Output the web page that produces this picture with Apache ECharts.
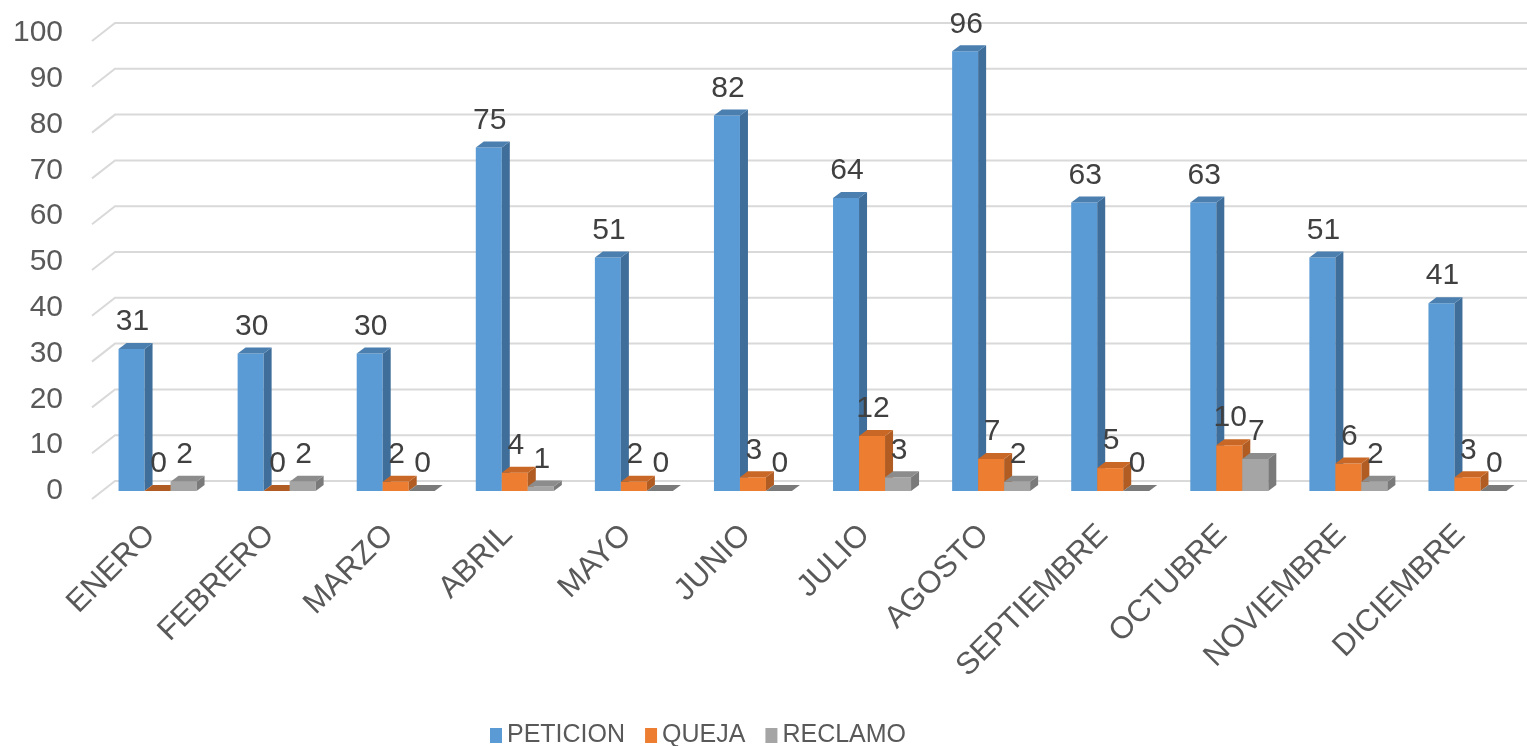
<!DOCTYPE html>
<html>
<head>
<meta charset="utf-8">
<script src="https://cdn.jsdelivr.net/npm/echarts@6/dist/echarts.min.js"></script>
<style>html,body{margin:0;padding:0;background:#fff}#c{width:1527px;height:746px}</style>
</head>
<body>
<div id="c"></div>
<script>
const categories = ['ENERO','FEBRERO','MARZO','ABRIL','MAYO','JUNIO','JULIO','AGOSTO','SEPTIEMBRE','OCTUBRE','NOVIEMBRE','DICIEMBRE'];
const seriesNames = ['PETICION','QUEJA','RECLAMO'];
const peticion = [31,30,30,75,51,82,64,96,63,63,51,41];
const queja    = [0,0,2,4,2,3,12,7,5,10,6,3];
const reclamo  = [2,2,0,1,0,0,3,2,0,7,2,0];
const yTicks = [0,10,20,30,40,50,60,70,80,90,100];

const front = ['#5B9BD5','#ED7D31','#A5A5A5'];
const side  = ['#3F6E9A','#B05C22','#7A7A7A'];
const topc  = ['#4A7FB0','#C96826','#8C8C8C'];
const values = [peticion, queja, reclamo];

const chart = echarts.init(document.getElementById('c'));

function barRenderer(s){
  return function(params, api){
    const i = api.value(0), v = api.value(1);
    const c = api.coord([i, v]);
    const b = api.coord([i, 0]);
    const bw = 26, dx = 8, dy = 6;
    const x0 = c[0] - 39 + bw*s;
    const top = c[1], bot = b[1];
    const children = [];
    if (bot - top > 0.5) {
      children.push({type:'rect', shape:{x:x0, y:top, width:bw, height:bot-top}, style:{fill:front[s]}});
      children.push({type:'polygon', shape:{points:[[x0+bw,top],[x0+bw+dx,top-dy],[x0+bw+dx,bot-dy],[x0+bw,bot]]}, style:{fill:side[s]}});
    }
    children.push({type:'polygon', shape:{points:[[x0,top],[x0+dx,top-dy],[x0+bw+dx,top-dy],[x0+bw,top]]}, style:{fill: v===0 ? side[s] : topc[s]}});
    children.push({type:'text', z2:100, style:{x:x0+bw/2+1, y:top-27, text:String(v), align:'center', verticalAlign:'middle', fill:'#404040', fontSize:30, fontFamily:'Liberation Sans, Arial, sans-serif'}});
    return {type:'group', children};
  };
}

const series = [{
  type:'custom', name:'grid', silent:true, z:0,
  data: yTicks.map(v => [0, v]),
  renderItem: function(params, api){
    const y = api.coord([0, api.value(1)])[1];
    const cs = params.coordSys;
    return {type:'polyline', shape:{points:[[cs.x-6, y+8],[cs.x+17, y-10],[cs.x+cs.width, y-10]]}, style:{stroke:'#D9D9D9', lineWidth:2, fill:null}};
  }
}];
for (let s = 0; s < 3; s++) {
  series.push({
    type:'custom', name:seriesNames[s],
    itemStyle:{color:front[s]},
    data: values[s].map((v, i) => [i, v]),
    renderItem: barRenderer(s)
  });
}

chart.setOption({
  animation:false,
  grid:{left:98, right:0, top:33, bottom:255, containLabel:false},
  legend:{
    data:seriesNames, left:485, top:718, icon:'rect', itemWidth:12, itemHeight:15, itemGap:20,
    textStyle:{fontSize:25, color:'#595959', fontFamily:'Liberation Sans, Arial, sans-serif'}
  },
  xAxis:{
    type:'category', data:categories,
    axisLine:{show:false}, axisTick:{show:false},
    axisLabel:{rotate:45, interval:0, margin:32, fontSize:31, color:'#595959', padding:[0,10,0,0], fontFamily:'Liberation Sans, Arial, sans-serif'}
  },
  yAxis:{
    type:'value', min:0, max:100, interval:10,
    splitLine:{show:false}, axisLine:{show:false}, axisTick:{show:false},
    axisLabel:{margin:35, fontSize:30, color:'#595959', padding:[8,0,0,0], fontFamily:'Liberation Sans, Arial, sans-serif'}
  },
  series
});
</script>
</body>
</html>
